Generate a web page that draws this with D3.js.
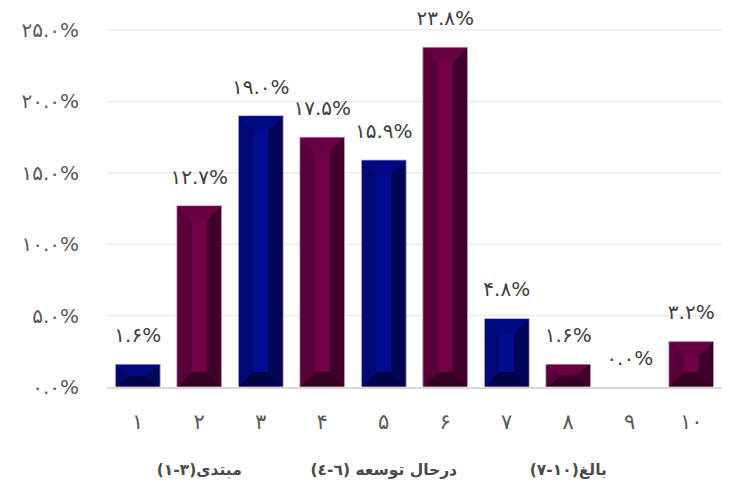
<!DOCTYPE html>
<html>
<head>
<meta charset="utf-8">
<script src="https://cdn.jsdelivr.net/npm/d3@7"></script>
<style>
  html, body { margin: 0; padding: 0; background: #fff; }
  svg { display: block; }
</style>
</head>
<body>
<svg id="chart" width="729" height="491"></svg>
<script>
// Maturity levels 1..10 and the share of respondents at each level (%)
const categories = ["1", "2", "3", "4", "5", "6", "7", "8", "9", "10"];
const values = [1.6, 12.7, 19.0, 17.5, 15.9, 23.8, 4.8, 1.6, 0.0, 3.2];
const yTicks = [0, 5, 10, 15, 20, 25];
// Group captions under the axis, each centred under its middle level
const groups = [
  { label: "مبتدی(٣-١)", center: "2" },
  { label: "درحال توسعه (٦-٤)", center: "5" },
  { label: "بالغ(١٠-٧)", center: "8" }
];

const faDigits = "۰۱۲۳۴۵۶۷۸۹";
const toFa = s => String(s).replace(/[0-9]/g, d => faDigits[+d]);
const pct = v => toFa(v.toFixed(1)) + "%";

const svg = d3.select("#chart");
const font = "'DejaVu Sans', 'Noto Sans', sans-serif";

const x = d3.scaleBand().domain(categories).range([107, 722]).paddingInner(0.27).paddingOuter(0.135);
const y = d3.scaleLinear().domain([0, 25]).range([387, 30]);

// Gridlines
svg.append("g").selectAll("line").data(yTicks.filter(t => t > 0)).join("line")
  .attr("x1", 107).attr("x2", 722)
  .attr("y1", d => y(d)).attr("y2", d => y(d))
  .attr("stroke", "#ececec").attr("stroke-width", 1.5);

// Y axis tick labels
const yAxis = d3.axisLeft(y).tickValues(yTicks).tickSize(0).tickPadding(0).tickFormat(pct);
const gy = svg.append("g").attr("transform", "translate(79,0)").call(yAxis);
gy.select(".domain").remove();
gy.selectAll("text").attr("font-family", font).attr("font-size", 20).attr("fill", "#595959");

// Palettes for the bevelled faces: face, top, left, right, bottom
const palettes = {
  blue:   { face: "#000d92", top: "#000a82", left: "#000874", right: "#000556", bottom: "#000446" },
  maroon: { face: "#720047", top: "#680042", left: "#58003a", right: "#40002a", bottom: "#350022" }
};

const bars = svg.append("g");
categories.forEach((c, i) => {
  const v = values[i];
  if (v <= 0) return;
  const pal = palettes[i % 2 === 0 ? "blue" : "maroon"];
  const x0 = x(c), x1 = x(c) + x.bandwidth();
  const y0 = y(v), y1 = y(0);
  const b = Math.min(15, (x1 - x0) / 2);
  const bv = Math.min(15, (y1 - y0) / 2);
  const g = bars.append("g");
  const poly = (pts, fill) => g.append("polygon")
    .attr("points", pts.map(p => p.join(",")).join(" ")).attr("fill", fill);
  g.append("rect").attr("x", x0).attr("y", y0).attr("width", x1 - x0).attr("height", y1 - y0)
    .attr("fill", pal.face);
  poly([[x0, y0], [x1, y0], [x1 - b, y0 + bv], [x0 + b, y0 + bv]], pal.top);
  poly([[x0, y1], [x1, y1], [x1 - b, y1 - bv], [x0 + b, y1 - bv]], pal.bottom);
  poly([[x0, y0], [x0 + b, y0 + bv], [x0 + b, y1 - bv], [x0, y1]], pal.left);
  poly([[x1, y0], [x1 - b, y0 + bv], [x1 - b, y1 - bv], [x1, y1]], pal.right);
  g.append("rect").attr("x", x0).attr("y", y0).attr("width", x1 - x0).attr("height", y1 - y0)
    .attr("fill", "none").attr("stroke", "#d9cde3").attr("stroke-width", 0.8);
});

// Baseline
svg.append("line").attr("x1", 107).attr("x2", 722).attr("y1", y(0) + 1).attr("y2", y(0) + 1)
  .attr("stroke", "#d9d9d9").attr("stroke-width", 2);

// Value labels
svg.append("g").selectAll("text").data(categories).join("text")
  .attr("x", d => x(d) + x.bandwidth() / 2)
  .attr("y", (d, i) => y(values[i]) - 29)
  .attr("text-anchor", "middle").attr("dominant-baseline", "central")
  .attr("font-family", font).attr("font-size", 20).attr("fill", "#404040")
  .text((d, i) => pct(values[i]));

// Category axis
const xAxis = d3.axisBottom(x).tickSize(0).tickPadding(0).tickFormat(toFa);
const gx = svg.append("g").attr("transform", "translate(0,414)").call(xAxis);
gx.select(".domain").remove();
gx.selectAll("text").attr("font-family", font).attr("font-size", 21).attr("fill", "#595959");

// Group captions
svg.append("g").selectAll("text").data(groups).join("text")
  .attr("x", d => x(d.center) + x.bandwidth() / 2)
  .attr("y", 470)
  .attr("text-anchor", "middle").attr("dominant-baseline", "central")
  .attr("direction", "rtl").attr("unicode-bidi", "embed")
  .attr("font-family", font).attr("font-size", 15.5).attr("font-weight", "bold").attr("fill", "#4a4a4a")
  .text(d => d.label);
</script>
</body>
</html>
